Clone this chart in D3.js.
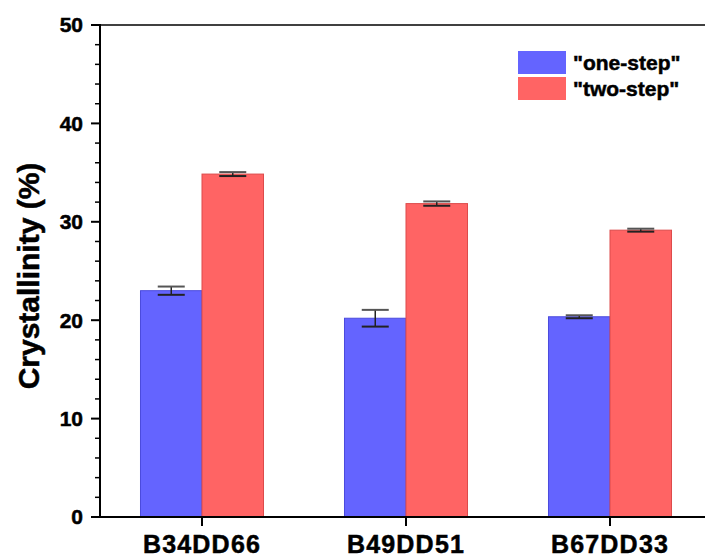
<!DOCTYPE html>
<html>
<head>
<meta charset="utf-8">
<script src="https://cdn.jsdelivr.net/npm/d3@7"></script>
<style>
  html, body { margin: 0; padding: 0; background: #fff; }
  svg { display: block; }
  text { font-family: "Liberation Sans", Arial, sans-serif; font-weight: bold; fill: #000; stroke: #000; stroke-width: 0.5px; }
</style>
</head>
<body>
<svg id="chart" width="705" height="559"></svg>
<script>
const categories = ["B34DD66", "B49DD51", "B67DD33"];
const seriesNames = ["\"one-step\"", "\"two-step\""];
const oneStep = [23.0, 20.2, 20.35];
const oneStepErr = [0.42, 0.85, 0.15];
const twoStep = [34.85, 31.85, 29.15];
const twoStepErr = [0.2, 0.22, 0.15];
const yTicks = [0, 10, 20, 30, 40, 50];
const yMinorTicks = [2, 4, 6, 8, 12, 14, 16, 18, 22, 24, 26, 28, 32, 34, 36, 38, 42, 44, 46, 48];
const colors = ["#6464FF", "#FF6464"];
const strokeColors = ["#4b4bdd", "#dd4b4b"];

(function () {
const svg = d3.select("#chart");
const pLeft = 100, pRight = 712, pTop = 25, pBottom = 517;

const x = d3.scaleBand().domain(categories).range([pLeft, pRight]).paddingInner(0.397).paddingOuter(0.1985);
const xs = d3.scaleBand().domain([0, 1]).range([0, x.bandwidth()]);
const y = d3.scaleLinear().domain([0, 50]).range([pBottom, pTop]);

const series = [
  { vals: oneStep, errs: oneStepErr },
  { vals: twoStep, errs: twoStepErr }
];

const data = [];
categories.forEach((c, i) => {
  series.forEach((s, k) => data.push({ c, k, v: s.vals[i], e: s.errs[i] }));
});

// bars
svg.append("g").selectAll("rect").data(data).join("rect")
  .attr("x", d => x(d.c) + xs(d.k))
  .attr("y", d => y(d.v))
  .attr("width", xs.bandwidth())
  .attr("height", d => y(0) - y(d.v))
  .attr("fill", d => colors[d.k])
  .attr("stroke", d => strokeColors[d.k])
  .attr("stroke-width", 1);

// error bars
const eg = svg.append("g").attr("stroke", "#222").attr("stroke-width", 2);
const cap = 13.5;
data.forEach(d => {
  const cx = x(d.c) + xs(d.k) + xs.bandwidth() / 2;
  eg.append("line").attr("x1", cx).attr("x2", cx).attr("y1", y(d.v + d.e)).attr("y2", y(d.v - d.e)).attr("stroke-width", 1.5);
  eg.append("line").attr("x1", cx - cap).attr("x2", cx + cap).attr("y1", y(d.v + d.e)).attr("y2", y(d.v + d.e)).attr("stroke", "#555");
  eg.append("line").attr("x1", cx - cap).attr("x2", cx + cap).attr("y1", y(d.v - d.e)).attr("y2", y(d.v - d.e));
});

// axes frame
svg.append("line").attr("x1", pLeft).attr("x2", pRight).attr("y1", pTop).attr("y2", pTop).attr("stroke", "#000").attr("stroke-width", 1.5);
svg.append("line").attr("x1", pLeft).attr("x2", pLeft).attr("y1", pTop - 1).attr("y2", pBottom + 1).attr("stroke", "#000").attr("stroke-width", 2);
svg.append("line").attr("x1", pLeft - 1).attr("x2", pRight).attr("y1", pBottom).attr("y2", pBottom).attr("stroke", "#000").attr("stroke-width", 2.2);

// y ticks
const yg = svg.append("g");
yTicks.forEach(t => {
  yg.append("line").attr("x1", pLeft - 9).attr("x2", pLeft).attr("y1", y(t)).attr("y2", y(t)).attr("stroke", "#000").attr("stroke-width", 2);
  yg.append("text").attr("x", pLeft - 17).attr("y", y(t)).attr("dy", "0.35em")
    .attr("text-anchor", "end").attr("font-size", 21).text(t);
});
yMinorTicks.forEach(t => {
  yg.append("line").attr("x1", pLeft - 5).attr("x2", pLeft).attr("y1", y(t)).attr("y2", y(t)).attr("stroke", "#000").attr("stroke-width", 1.5);
});

// x ticks and labels
const xg = svg.append("g");
categories.forEach(c => {
  const cx = x(c) + x.bandwidth() / 2;
  xg.append("line").attr("x1", cx).attr("x2", cx).attr("y1", pBottom).attr("y2", pBottom + 9).attr("stroke", "#000").attr("stroke-width", 2);
  xg.append("text").attr("x", cx).attr("y", 553).attr("text-anchor", "middle")
    .attr("font-size", 25).attr("letter-spacing", "1.2px").text(c);
});

// y title
svg.append("text").attr("transform", `translate(39,${(pTop + pBottom) / 2 + 5}) rotate(-90)`)
  .attr("text-anchor", "middle").attr("font-size", 30).text("Crystallinity (%)");

// legend
const lg = svg.append("g");
seriesNames.forEach((n, k) => {
  lg.append("rect").attr("x", 518).attr("y", 51 + k * 26).attr("width", 48).attr("height", 23)
    .attr("fill", colors[k]);
  lg.append("text").attr("x", 573).attr("y", 62.5 + k * 26).attr("dy", "0.35em")
    .attr("font-size", 21).text(n);
});
})();
</script>
</body>
</html>
